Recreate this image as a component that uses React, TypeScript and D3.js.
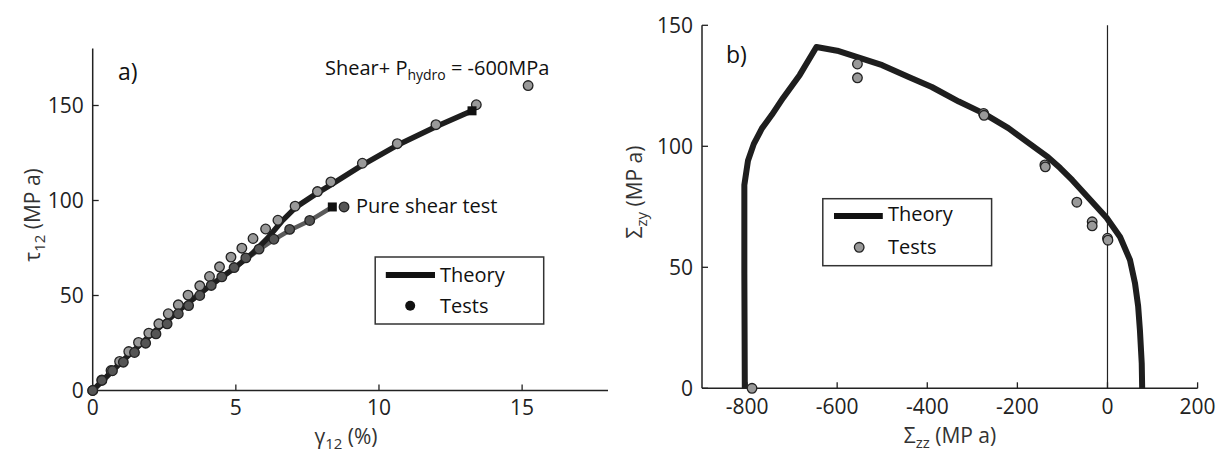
import React from "react";
import * as d3 from "d3";

// ---------- Panel a) data ----------
const shearPX = [0, 0.32, 0.64, 0.94, 1.26, 1.6, 1.96, 2.31, 2.64, 2.99, 3.33, 3.74, 4.08, 4.43, 4.83, 5.21, 5.6, 6.04, 6.47, 7.07, 7.85, 8.32, 9.42, 10.64, 11.99, 13.4, 15.21];
const shearPY = [0, 5.6, 10.5, 15.3, 20.5, 25.3, 30.2, 35.1, 40.4, 45.1, 50.2, 55.1, 60, 65.1, 70.2, 74.9, 80, 85, 89.6, 97, 104.7, 109.8, 119.6, 129.9, 139.9, 150.4, 160.5];
const pureX = [0, 0.32, 0.69, 1.07, 1.46, 1.85, 2.21, 2.6, 2.99, 3.35, 3.74, 4.14, 4.51, 4.94, 5.35, 5.81, 6.33, 6.88, 7.58, 8.78];
const pureY = [0, 5.3, 10.4, 14.9, 20, 24.9, 29.8, 35.1, 40.4, 44.7, 50, 55.3, 59.8, 64.7, 69.8, 74.4, 79.6, 84.8, 89.5, 96.6];
const theoryPX = [0, 1, 2, 3, 4, 5, 5.6, 6.1, 6.6, 7.1, 7.8, 8.4, 9.4, 10.6, 12, 13.25];
const theoryPY = [0, 15, 29, 42, 54, 65, 72.5, 80, 89, 96.5, 103.5, 109, 118.5, 128.8, 139, 147.2];
const theoryPureX = [0, 1, 2, 3, 4, 5, 5.8, 6.4, 6.9, 7.6, 8.37];
const theoryPureY = [0, 15, 29, 42, 54, 65, 74, 80, 84.5, 89.5, 96.6];
const xTicksA = [0, 5, 10, 15];
const yTicksA = [0, 50, 100, 150];

// ---------- Panel b) data ----------
const envZZ = [-805, -806, -806, -798, -785, -767, -745, -720, -683, -646, -600, -550, -500, -440, -390, -330, -274, -220, -180, -132, -105, -78, -46, -2, 28, 50, 61, 68, 72, 76, 77];
const envZY = [0, 47.5, 84, 94, 101, 107.4, 113, 120, 129.5, 141, 139.5, 136.5, 133.5, 128.5, 124.5, 118.5, 113.5, 107.5, 102, 95.5, 91, 86, 79.5, 70.5, 62.5, 53, 43.5, 34, 24, 10.3, 0];
const testZZ = [-789, -555, -555, -275, -274, -139, -138, -68, -34, -34, 0, 1];
const testZY = [0, 134, 128.3, 113.6, 112.8, 92.3, 91.5, 76.9, 68.8, 67.1, 62, 61.2];
const xTicksB = [-800, -600, -400, -200, 0, 200];
const yTicksB = [0, 50, 100, 150];

const FONT = "'Open Sans', 'Noto Sans', sans-serif";
const INK = "#222";

export default function App() {
  // scales panel a
  const xA = d3.scaleLinear().domain([0, 18]).range([92.7, 608]);
  const yA = d3.scaleLinear().domain([0, 180]).range([390.5, 48.5]);
  // scales panel b
  const xB = d3.scaleLinear().domain([-900, 200]).range([702, 1197.6]);
  const yB = d3.scaleLinear().domain([0, 150]).range([388.3, 25.3]);

  const lineA = d3
    .line<[number, number]>()
    .x((d) => xA(d[0]))
    .y((d) => yA(d[1]));
  const lineB = d3
    .line<[number, number]>()
    .x((d) => xB(d[0]))
    .y((d) => yB(d[1]));

  const zip = (a: number[], b: number[]) => a.map((v, i) => [v, b[i]] as [number, number]);
  const shearPts = zip(shearPX, shearPY);
  const purePts = zip(pureX, pureY);
  const thP = zip(theoryPX, theoryPY);
  const thPure = zip(theoryPureX, theoryPureY);
  const env = zip(envZZ, envZY);
  const tests = zip(testZZ, testZY);

  const tick = 6;
  const sq = 9;
  const lastP = thP[thP.length - 1];
  const lastPure = thPure[thPure.length - 1];

  return (
    <svg
      width={1228}
      height={455}
      style={{ position: "absolute", left: 0, top: 0, background: "#fff" }}
      fontFamily={FONT}
    >
      <rect x={0} y={0} width={1228} height={455} fill="#fff" />

      {/* ================= Panel a ================= */}
      <g>
        {/* axes */}
        <line x1={xA(0)} x2={xA(0)} y1={yA(180)} y2={yA(0)} stroke={INK} strokeWidth={1.5} />
        <line x1={xA(0)} x2={xA(18)} y1={yA(0)} y2={yA(0)} stroke={INK} strokeWidth={1.5} />
        {xTicksA.map((t) => (
          <g key={"xa" + t}>
            <line x1={xA(t)} x2={xA(t)} y1={yA(0)} y2={yA(0) - tick} stroke={INK} strokeWidth={1.3} />
            <text x={xA(t)} y={yA(0) + 24} textAnchor="middle" fontSize={21} fill={INK}>
              {t}
            </text>
          </g>
        ))}
        {yTicksA.map((t) => (
          <g key={"ya" + t}>
            <line x1={xA(0)} x2={xA(0) + tick} y1={yA(t)} y2={yA(t)} stroke={INK} strokeWidth={1.3} />
            <text x={xA(0) - 9} y={yA(t) + 7.5} textAnchor="end" fontSize={21} fill={INK}>
              {t}
            </text>
          </g>
        ))}

        {/* theory lines */}
        <path d={lineA(thPure) || ""} fill="none" stroke="#5a5a5a" strokeWidth={4.5} strokeLinejoin="round" strokeLinecap="round" />
        <path d={lineA(thP) || ""} fill="none" stroke="#1e1e1e" strokeWidth={5.5} strokeLinejoin="round" strokeLinecap="round" />

        {/* tests */}
        {shearPts.map((d, i) => (
          <circle key={"sp" + i} cx={xA(d[0])} cy={yA(d[1])} r={4.8} fill="#999" stroke={INK} strokeWidth={1.3} />
        ))}
        {purePts.map((d, i) => (
          <circle key={"pp" + i} cx={xA(d[0])} cy={yA(d[1])} r={4.8} fill="#555" stroke={INK} strokeWidth={1.3} />
        ))}
        <rect x={xA(lastP[0]) - sq / 2} y={yA(lastP[1]) - sq / 2} width={sq} height={sq} fill="#111" />
        <rect x={xA(lastPure[0]) - sq / 2} y={yA(lastPure[1]) - sq / 2} width={sq} height={sq} fill="#111" />

        {/* annotations */}
        <text x={118} y={80} fontSize={23} fill="#111">a)</text>
        <text x={325} y={75} fontSize={20} fill="#111">
          Shear+ P<tspan fontSize={14} dy={5}>hydro</tspan>
          <tspan dy={-5}> = -600MPa</tspan>
        </text>
        <text x={356} y={213} fontSize={20} fill="#111">Pure shear test</text>

        {/* legend */}
        <rect x={375.2} y={257} width={168.5} height={67} fill="#fff" stroke="#333" strokeWidth={1.5} />
        <line x1={385.8} x2={435} y1={275} y2={275} stroke="#111" strokeWidth={6} />
        <text x={440} y={282} fontSize={20} fill="#111">Theory</text>
        <circle cx={410.2} cy={305.7} r={5} fill="#111" />
        <text x={440} y={313} fontSize={20} fill="#111">Tests</text>

        {/* axis labels */}
        <text x={346} y={444} textAnchor="middle" fontSize={21} fill="#333">
          γ<tspan fontSize={15} dy={5}>12</tspan>
          <tspan dy={-5}> (%)</tspan>
        </text>
        <text transform="translate(40,215) rotate(-90)" textAnchor="middle" fontSize={21} fill="#333">
          τ<tspan fontSize={15} dy={5}>12</tspan>
          <tspan dy={-5}> (MP a)</tspan>
        </text>
      </g>

      {/* ================= Panel b ================= */}
      <g>
        <line x1={xB(-900)} x2={xB(-900)} y1={yB(150)} y2={yB(0)} stroke={INK} strokeWidth={1.5} />
        <line x1={xB(-900)} x2={xB(200)} y1={yB(0)} y2={yB(0)} stroke={INK} strokeWidth={1.5} />
        <line x1={xB(0)} x2={xB(0)} y1={yB(150)} y2={yB(0)} stroke={INK} strokeWidth={1.2} />
        {xTicksB.map((t) => (
          <g key={"xb" + t}>
            <line x1={xB(t)} x2={xB(t)} y1={yB(0)} y2={yB(0) - tick} stroke={INK} strokeWidth={1.3} />
            <text x={xB(t)} y={yB(0) + 26} textAnchor="middle" fontSize={21} fill={INK}>
              {String(t)}
            </text>
          </g>
        ))}
        {yTicksB.map((t) => (
          <g key={"yb" + t}>
            <line x1={xB(-900)} x2={xB(-900) + tick} y1={yB(t)} y2={yB(t)} stroke={INK} strokeWidth={1.3} />
            <text x={xB(-900) - 9} y={yB(t) + 7.5} textAnchor="end" fontSize={21} fill={INK}>
              {t}
            </text>
          </g>
        ))}

        <path d={lineB(env) || ""} fill="none" stroke="#1e1e1e" strokeWidth={6} strokeLinejoin="round" />

        {tests.map((d, i) => (
          <circle key={"tb" + i} cx={xB(d[0])} cy={yB(d[1])} r={4.8} fill="#999" stroke={INK} strokeWidth={1.3} />
        ))}

        <text x={726} y={63} fontSize={23} fill="#111">b)</text>

        {/* legend */}
        <rect x={822.8} y={198.7} width={168.8} height={67} fill="#fff" stroke="#333" strokeWidth={1.5} />
        <line x1={834} x2={882.8} y1={216} y2={216} stroke="#111" strokeWidth={6} />
        <text x={888} y={221} fontSize={20} fill="#111">Theory</text>
        <circle cx={859.2} cy={247.3} r={4.8} fill="#999" stroke={INK} strokeWidth={1.3} />
        <text x={888} y={254} fontSize={20} fill="#111">Tests</text>

        {/* axis labels */}
        <text x={950} y={443} textAnchor="middle" fontSize={21} fill="#333">
          Σ<tspan fontSize={15} dy={5}>zz</tspan>
          <tspan dy={-5}> (MP a)</tspan>
        </text>
        <text transform="translate(642,192) rotate(-90)" textAnchor="middle" fontSize={21} fill="#333">
          Σ<tspan fontSize={15} dy={5}>zy</tspan>
          <tspan dy={-5}> (MP a)</tspan>
        </text>
      </g>
    </svg>
  );
}
